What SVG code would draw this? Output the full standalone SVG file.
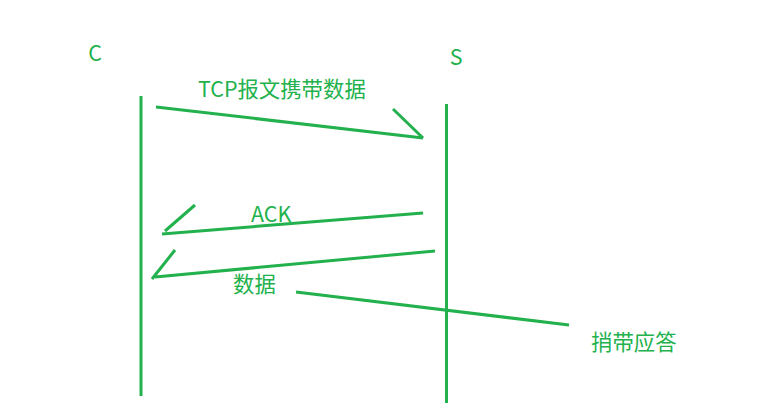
<svg xmlns="http://www.w3.org/2000/svg" width="758" height="410" viewBox="0 0 758 410">
<style>
.l{stroke:#22b14c;stroke-width:3;fill:none;stroke-linecap:butt}
.t{fill:#22b14c;font-family:"Noto Sans CJK SC","Noto Sans",sans-serif;font-size:21.4px}
</style>
<rect width="758" height="410" fill="#fff"/>
<g id="node-C">
<text class="t" x="95" y="61" text-anchor="middle">C</text>
<line class="l" x1="141" y1="96" x2="141" y2="396"/>
</g>
<g id="node-S">
<text class="t" x="456" y="65" text-anchor="middle">S</text>
<line class="l" x1="446.5" y1="104" x2="446.5" y2="403"/>
</g>
<g id="connectors">
<line class="l" x1="156" y1="107" x2="423" y2="138"/>
<line class="l" x1="393" y1="109" x2="423" y2="138"/>
<line class="l" x1="423" y1="213" x2="162" y2="234"/>
<line class="l" x1="195" y1="205" x2="165" y2="231"/>
<line class="l" x1="435" y1="251" x2="155" y2="277"/>
<line class="l" x1="175" y1="250" x2="152" y2="279"/>
<line class="l" x1="296" y1="292" x2="569" y2="325"/>
</g>
<g id="labels">
<text class="t" x="198" y="97">TCP报文携带数据</text>
<text class="t" x="251" y="222">ACK</text>
<text class="t" x="233" y="292">数据</text>
<text class="t" x="591" y="350">捎带应答</text>
</g>
</svg>
